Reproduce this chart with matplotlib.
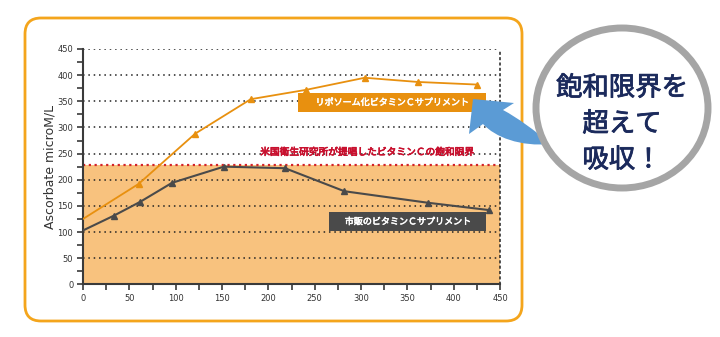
import matplotlib
matplotlib.use('Agg')
import matplotlib.pyplot as plt
import matplotlib.patheffects as pe
from matplotlib.patches import FancyBboxPatch, Ellipse, Rectangle, PathPatch
from matplotlib.path import Path

plt.rcParams['font.family'] = ['Noto Sans CJK JP', 'DejaVu Sans']

# ---------------------------------------------------------------- data
liposome_x = [0, 60, 121, 181, 241, 304, 361, 425]
liposome_y = [125, 192, 288, 354, 372, 395, 387, 382]

commercial_x = [0, 33, 62, 96, 152, 218, 282, 372, 438]
commercial_y = [103, 131, 158, 194, 225, 222, 178, 156, 142]

saturation = 228
x_ticks = [0, 50, 100, 150, 200, 250, 300, 350, 400, 450]
y_ticks = [0, 50, 100, 150, 200, 250, 300, 350, 400, 450]

label_liposome = 'リポソーム化ビタミンＣサプリメント'
label_commercial = '市販のビタミンＣサプリメント'
label_limit = '米国衛生研究所が提唱したビタミンＣの飽和限界'
callout_lines = ['飽和限界を', '超えて', '吸収！']

# ---------------------------------------------------------------- figure
W, H = 720, 337
fig = plt.figure(figsize=(W / 100, H / 100), dpi=100)
px = fig.dpi_scale_trans  # inches == pixels / 100


def P(x, y):
    return (x / 100, (H - y) / 100)


def bold(lw, c):
    return [pe.withStroke(linewidth=lw, foreground=c)]


# orange rounded frame around the chart
frame = FancyBboxPatch(P(25, 321), 4.97, 3.03,
                       boxstyle='round,pad=0,rounding_size=0.16',
                       transform=px, fill=False, ec='#F4A51C', lw=2.0, zorder=0)
fig.patches.append(frame)

ax = fig.add_axes([83 / W, 1 - 284.3 / H, (500 - 83) / W, (284.3 - 49) / H])
ax.set_xlim(0, 450)
ax.set_ylim(0, 450)

ax.axhspan(0, saturation, color='#F8C27E', zorder=0.5, lw=0)
for yv in y_ticks[1:]:
    ax.axhline(yv, color='#222222', ls=(0, (1, 2.5)), lw=1.1, zorder=1)
ax.axhline(saturation, color='#D2232A', ls=(0, (1, 1.6)), lw=1.6, zorder=1.5)

ax.plot(liposome_x, liposome_y, color='#E8900F', lw=1.3, marker='^',
        markersize=4.5, markevery=list(range(1, len(liposome_x))), zorder=3)
ax.plot(commercial_x, commercial_y, color='#4A4A4A', lw=1.5, marker='^',
        markersize=4.5, markevery=list(range(1, len(commercial_x))), zorder=3)

# spines and ticks
ax.spines['top'].set_visible(False)
ax.spines['right'].set_linestyle((0, (1, 2.5)))
ax.spines['right'].set_color('#222222')
ax.spines['right'].set_linewidth(1.1)
for s in ('left', 'bottom'):
    ax.spines[s].set_color('#3a3a3a')
    ax.spines[s].set_linewidth(1.5)

ax.set_xticks(x_ticks)
ax.set_yticks(y_ticks)
ax.set_xticks([v + 25 for v in x_ticks[:-1]], minor=True)
ax.set_yticks([v + 25 for v in y_ticks[:-1]], minor=True)
ax.tick_params(axis='both', which='both', direction='out', length=4,
               width=1.2, color='#3a3a3a', labelsize=6, labelcolor='#333333')
ax.tick_params(axis='y', pad=3)
ax.tick_params(axis='x', pad=3)
for lab in ax.get_xticklabels() + ax.get_yticklabels():
    lab.set_family('DejaVu Sans')

ax.set_ylabel('Ascorbate microM/L', fontsize=9, color='#333333',
              family='DejaVu Sans', labelpad=1)

# label boxes
ax.add_patch(Rectangle((232, 329), 203, 37, color='#E8900F', zorder=4, lw=0))
ax.text(333.5, 347.5, label_liposome, color='white', fontsize=6.5,
        ha='center', va='center', zorder=5, path_effects=bold(0.4, 'white'))

ax.add_patch(Rectangle((266, 101), 169, 37, color='#4A4A4A', zorder=4, lw=0))
ax.text(350.5, 119.5, label_commercial, color='white', fontsize=6.5,
        ha='center', va='center', zorder=5, path_effects=bold(0.4, 'white'))

ax.text(307, 253, label_limit, color='#C8102E', fontsize=7,
        ha='center', va='center', zorder=5, path_effects=bold(0.5, '#C8102E'))

# blue curved arrow (drawn as an outline, pixel coordinates)
arrow_pts = [(473, 99), (514, 103), (503, 110),
             (518, 118), (534, 130), (551, 144),
             (520, 147), (495, 137), (483, 124),
             (469, 134), (473, 99)]
arrow_codes = [Path.MOVETO, Path.LINETO, Path.LINETO,
               Path.CURVE4, Path.CURVE4, Path.CURVE4,
               Path.CURVE4, Path.CURVE4, Path.CURVE4,
               Path.LINETO, Path.CLOSEPOLY]
arrow = PathPatch(Path([P(x, y) for x, y in arrow_pts], arrow_codes),
                  transform=px, fc='#5B9BD5', ec='none', zorder=5)
fig.patches.append(arrow)

# grey circle callout
circle = Ellipse(P(622, 108), 1.72, 1.60, transform=px, fc='white',
                 ec='#A5A5A5', lw=5, zorder=6)
fig.patches.append(circle)
for i, line in enumerate(callout_lines):
    fig.text(622 / W, 1 - (88 + i * 36) / H, line, color='#1B2A5C',
             fontsize=19, ha='center', va='center', zorder=7,
             path_effects=bold(0.6, '#1B2A5C'))

fig.savefig('out.png', dpi=100)
